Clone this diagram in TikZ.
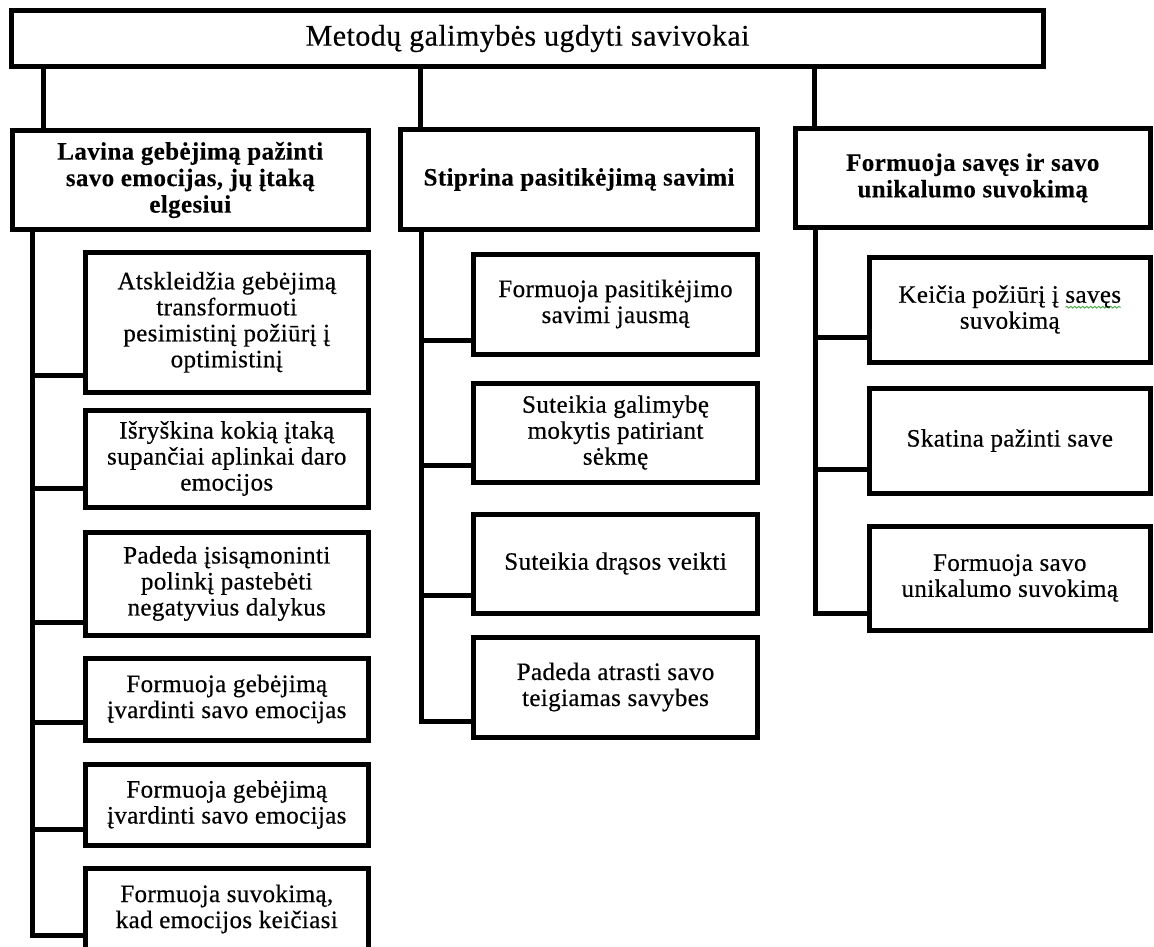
\documentclass[tikz,border=0pt]{standalone}
\usepackage{fontspec}
\setmainfont{Liberation Serif}[LetterSpace=1.5,
  UprightFeatures={FakeBold=0.5}, BoldFeatures={FakeBold=0.3}]
\usetikzlibrary{calc,decorations.pathmorphing}
\definecolor{spellwave}{RGB}{70,170,70}

% word with a wavy green underline
\newsavebox\wavebox
\newcommand\wavyword[1]{\sbox\wavebox{#1}\rlap{\tikz[overlay,baseline=0pt]\draw[spellwave,line width=0.9pt,decorate,decoration={snake,amplitude=0.9pt,segment length=4pt}] (0pt,-4.5pt) -- (\wd\wavebox,-4.5pt);}\usebox\wavebox}

\begin{document}
\begin{tikzpicture}[x=1pt,y=-1pt,
  box/.style={draw=black, line width=5pt, inner sep=0pt, outer sep=0pt,
    align=center, text=black, font=\fontsize{25}{26}\selectfont},
  headbox/.style={box, font=\fontsize{25}{26.5}\selectfont\bfseries},
  titlebox/.style={box, font=\fontsize{30}{32}\selectfont},
  conn/.style={draw=black, line width=5pt}]

\useasboundingbox (0,0) rectangle (1154,947);

% top level
\node[titlebox, minimum width=1031.5, minimum height=56] (title) at (527.6,38.5)
  {Metodų galimybės ugdyti savivokai};

% second level
\node[headbox, minimum width=356.5, minimum height=99] (b1) at (190.25,180)
  {Lavina gebėjimą pažinti\\savo emocijas, jų įtaką\\elgesiui};
\node[headbox, minimum width=357, minimum height=100] (b2) at (579,179.5)
  {Stiprina pasitikėjimą savimi};
\node[headbox, minimum width=354.5, minimum height=99] (b3) at (972.75,178)
  {Formuoja savęs ir savo\\unikalumo suvokimą};

% left column
\node[box, minimum width=283.5, minimum height=139.5] (c1) at (226.75,322.25)
  {Atskleidžia gebėjimą\\transformuoti\\pesimistinį požiūrį į\\optimistinį};
\node[box, minimum width=283.5, minimum height=97] (c2) at (226.75,458.5)
  {Išryškina kokią įtaką\\supančiai aplinkai daro\\emocijos};
\node[box, minimum width=283.5, minimum height=103] (c3) at (226.75,583.5)
  {Padeda įsisąmoninti\\polinkį pastebėti\\negatyvius dalykus};
\node[box, minimum width=283.5, minimum height=82] (c4) at (226.75,699)
  {Formuoja gebėjimą\\įvardinti savo emocijas};
\node[box, minimum width=283.5, minimum height=81] (c5) at (226.75,804.5)
  {Formuoja gebėjimą\\įvardinti savo emocijas};
\node[box, minimum width=283.5, minimum height=82] (c6) at (226.75,909)
  {Formuoja suvokimą,\\kad emocijos keičiasi};

% middle column
\node[box, minimum width=284, minimum height=100] (m1) at (615.5,304)
  {Formuoja pasitikėjimo\\savimi jausmą};
\node[box, minimum width=284, minimum height=99] (m2) at (615.5,432.5)
  {Suteikia galimybę\\mokytis patiriant\\sėkmę};
\node[box, minimum width=284, minimum height=99] (m3) at (615.5,563.5)
  {Suteikia drąsos veikti};
\node[box, minimum width=284, minimum height=100] (m4) at (615.5,687)
  {Padeda atrasti savo\\teigiamas savybes};

% right column
\node[box, minimum width=280.5, minimum height=105] (r1) at (1009.75,309.5)
  {Keičia požiūrį į \wavyword{savęs}\\suvokimą};
\node[box, minimum width=280.5, minimum height=105] (r2) at (1009.75,440.5)
  {Skatina pažinti save};
\node[box, minimum width=280.5, minimum height=104] (r3) at (1009.75,578)
  {Formuoja savo\\unikalumo suvokimą};

% x positions of the vertical lines
\coordinate (jL) at (43.5,0);
\coordinate (jM) at (420.5,0);
\coordinate (jR) at (814.5,0);
\coordinate (sL) at (32.5,0);
\coordinate (sM) at (421.5,0);
\coordinate (sR) at (815,0);

% title to second level
\draw[conn] (title.south -| jL) -- (b1.north -| jL);
\draw[conn] (title.south -| jM) -- (b2.north -| jM);
\draw[conn] (title.south -| jR) -- (b3.north -| jR);

% left branch
\draw[conn] (b1.south -| sL) |- ($(c1.south west)+(0,-17)$);
\draw[conn] (b1.south -| sL) |- ($(c2.south west)+(0,-19)$);
\draw[conn] (b1.south -| sL) |- ($(c3.south west)+(0,-13)$);
\draw[conn] (b1.south -| sL) |- ($(c4.south west)+(0,-18)$);
\draw[conn] (b1.south -| sL) |- ($(c5.south west)+(0,-16)$);
\draw[conn] (b1.south -| sL) |- ($(c6.south west)+(0,-15)$);

% middle branch
\draw[conn] (b2.south -| sM) |- ($(m1.south west)+(0,-14)$);
\draw[conn] (b2.south -| sM) |- ($(m2.south west)+(0,-17)$);
\draw[conn] (b2.south -| sM) |- ($(m3.south west)+(0,-18)$);
\draw[conn] (b2.south -| sM) |- ($(m4.south west)+(0,-16)$);

% right branch
\draw[conn] (b3.south -| sR) |- ($(r1.south west)+(0,-25)$);
\draw[conn] (b3.south -| sR) |- ($(r2.south west)+(0,-24)$);
\draw[conn] (b3.south -| sR) |- ($(r3.south west)+(0,-17)$);
\end{tikzpicture}
\end{document}
